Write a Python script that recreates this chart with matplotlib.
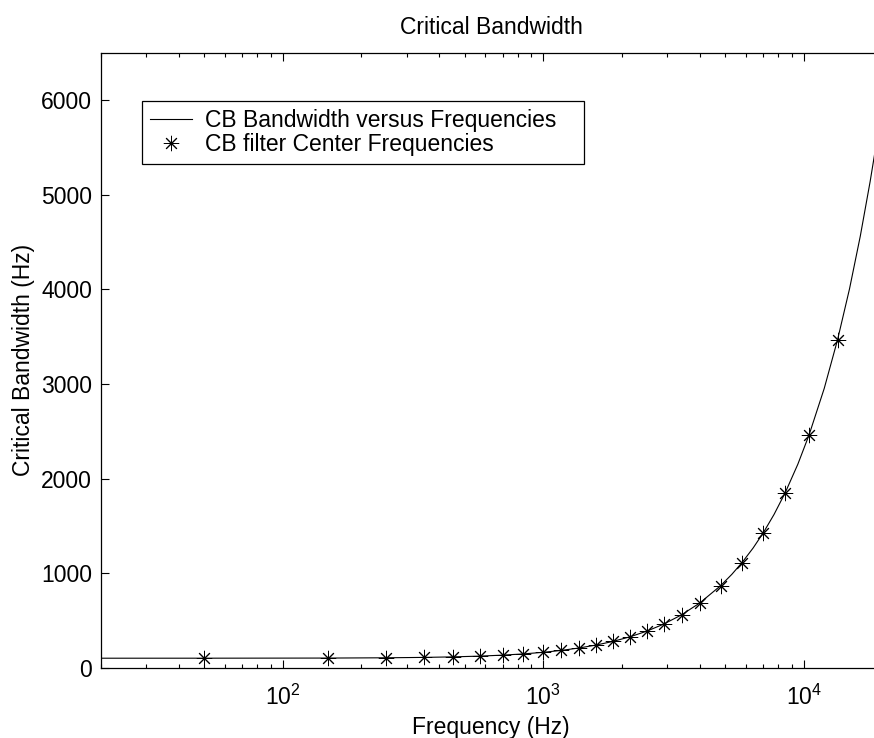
import matplotlib
matplotlib.use("Agg")
import matplotlib.pyplot as plt

# critical bandwidth curve (Hz)
curve_freq = [20, 50, 150, 250, 350, 450, 570, 700, 840, 1000, 1170, 1370, 1600,
              1850, 2150, 2500, 2900, 3400, 4000, 4800, 5300, 5800, 6400, 7000,
              7700, 8500, 9500, 10500, 12000, 13500, 15000, 16500, 18000, 19000, 20000]
curve_bw = [100.0, 100.2, 101.6, 104.5, 108.7, 114.1, 122.1, 132.5, 145.5, 162.2,
            182.0, 207.5, 239.5, 277.0, 325.4, 386.0, 459.9, 558.7, 685.4, 866.7,
            986.4, 1110.7, 1265.5, 1426.1, 1620.3, 1850.7, 2150.7, 2463.2, 2953.4,
            3467.9, 4004.7, 4562.4, 5139.7, 5535.1, 5938.5]

# filter centre frequencies (stars)
center_freq = [50, 150, 250, 350, 450, 570, 700, 840, 1000, 1170, 1370, 1600,
               1850, 2150, 2500, 2900, 3400, 4000, 4800, 5800, 7000, 8500, 10500, 13500]
center_bw = [100.2, 101.6, 104.5, 108.7, 114.1, 122.1, 132.5, 145.5, 162.2, 182.0,
             207.5, 239.5, 277.0, 325.4, 386.0, 459.9, 558.7, 685.4, 866.7, 1110.7,
             1426.1, 1850.7, 2463.2, 3467.9]

x_ticks = [100, 1000, 10000]
x_ticklabels = [r"$\mathregular{10^{2}}$", r"$\mathregular{10^{3}}$", r"$\mathregular{10^{4}}$"]
y_ticks = [0, 1000, 2000, 3000, 4000, 5000, 6000]

plt.rcParams.update({
    "font.family": ["Liberation Sans", "DejaVu Sans"],
    "font.size": 16.5,
    "mathtext.fontset": "custom",
    "mathtext.rm": "Liberation Sans",
    "mathtext.it": "Liberation Sans",
    "mathtext.bf": "Liberation Sans",
})

fig = plt.figure(figsize=(8.74, 7.38), dpi=100)
ax = fig.add_axes([0.115, 0.0953, 0.8942, 0.8329])

ax.plot(curve_freq, curve_bw, color="black", linewidth=0.8,
        label="CB Bandwidth versus Frequencies")
ax.plot(center_freq, center_bw, linestyle="none", marker=(8, 2, 0), markersize=11,
        markeredgewidth=0.7, color="black", label="CB filter Center Frequencies")

ax.set_xscale("log")
ax.set_xlim(20, 20000)
ax.set_ylim(0, 6500)
ax.set_xticks(x_ticks)
ax.set_xticklabels(x_ticklabels)
ax.set_yticks(y_ticks)

ax.tick_params(which="both", direction="in", top=True, right=True)
ax.tick_params(which="major", length=5.5, width=0.8)
ax.tick_params(which="minor", length=3, width=0.8)
ax.tick_params(axis="x", which="major", pad=12)
ax.tick_params(axis="y", which="major", pad=6)
for s in ax.spines.values():
    s.set_linewidth(0.9)

ax.set_title("Critical Bandwidth", fontsize=16.5, pad=14)
ax.set_xlabel("Frequency (Hz)", labelpad=4.5)
ax.set_ylabel("Critical Bandwidth (Hz)", labelpad=4.5)

leg = ax.legend(loc="upper left", bbox_to_anchor=(0.0535, 0.8, 0.5656, 0.1224),
                mode="expand", borderaxespad=0,
                fancybox=False, framealpha=1, edgecolor="black", numpoints=1,
                borderpad=0.35, labelspacing=0.05, handlelength=1.8, handletextpad=0.6,
                fontsize=16.5)
leg.get_frame().set_linewidth(0.9)

fig.savefig("out.png", dpi=100)
